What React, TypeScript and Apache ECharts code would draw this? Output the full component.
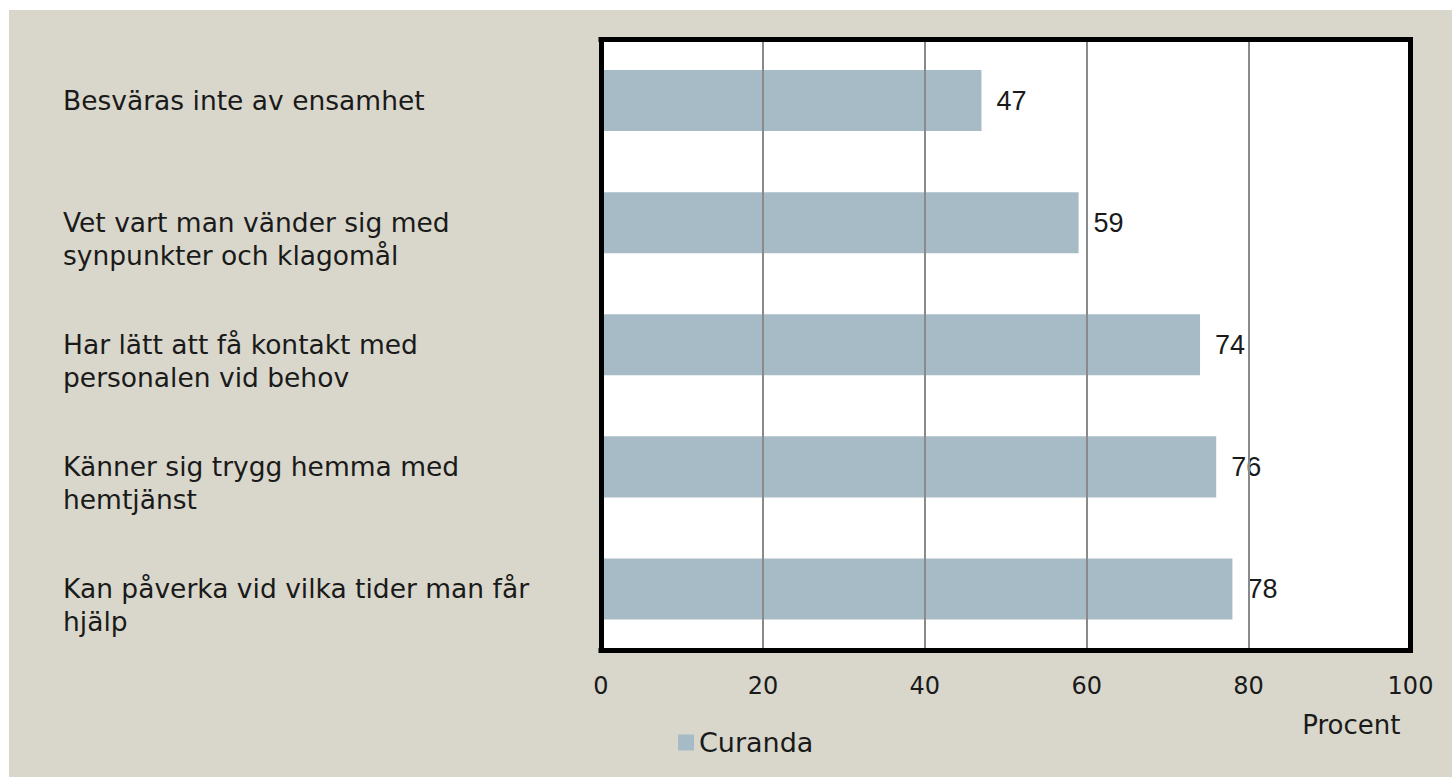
import React, { useEffect, useRef } from "react";
import * as echarts from "echarts";

const categories: string[] = [
  "Besväras inte av ensamhet",
  "Vet vart man vänder sig med\nsynpunkter och klagomål",
  "Har lätt att få kontakt med\npersonalen vid behov",
  "Känner sig trygg hemma med\nhemtjänst",
  "Kan påverka vid vilka tider man får\nhjälp",
];
const seriesName = "Curanda";
const values: number[] = [47, 59, 74, 76, 78];
const axisName = "Procent";
const xMin = 0;
const xMax = 100;
const xInterval = 20;

const TEXT = "#1a1a1a";
const FONT = "DejaVu Sans";
const frameLine = { show: true, onZero: false, lineStyle: { color: "#000000", width: 5, cap: "square" } };

export default function App() {
  const ref = useRef<HTMLDivElement>(null);
  useEffect(() => {
    if (!ref.current) return;
    const chart = echarts.init(ref.current, undefined, { renderer: "svg" });
    chart.setOption({
      animation: false,
      backgroundColor: "#d9d7cb",
      grid: {
        left: 592,
        right: 41.5,
        top: 29.5,
        bottom: 127,
        show: true,
        backgroundColor: "#ffffff",
        borderWidth: 0,
        containLabel: false,
      },
      legend: {
        data: [seriesName],
        left: 664,
        top: 714,
        icon: "rect",
        itemWidth: 16,
        itemHeight: 16,
        itemGap: 6,
        textStyle: { color: TEXT, fontFamily: FONT, fontSize: 27 },
      },
      xAxis: [
        {
          type: "value",
          position: "bottom",
          min: xMin,
          max: xMax,
          interval: xInterval,
          z: 5,
          axisLine: frameLine,
          axisTick: { show: false },
          splitLine: {
            show: true,
            showMinLine: false,
            showMaxLine: false,
            lineStyle: { color: "#8a8a8a", width: 2 },
          },
          axisLabel: { color: TEXT, fontFamily: FONT, fontSize: 24, margin: 24 },
          name: axisName,
          nameLocation: "end",
          nameGap: -10,
          nameTextStyle: {
            color: TEXT,
            fontFamily: FONT,
            fontSize: 26,
            align: "right",
            verticalAlign: "top",
            padding: [62, 0, 0, 0],
          },
        },
        {
          type: "value",
          position: "top",
          min: xMin,
          max: xMax,
          interval: xInterval,
          z: 5,
          axisLine: frameLine,
          axisTick: { show: false },
          splitLine: { show: false },
          axisLabel: { show: false },
        },
      ],
      yAxis: [
        {
          type: "category",
          data: categories,
          inverse: true,
          position: "left",
          z: 5,
          axisLine: frameLine,
          axisTick: { show: false },
          splitLine: { show: false },
          axisLabel: {
            interval: 0,
            color: TEXT,
            fontFamily: FONT,
            fontSize: 26.5,
            lineHeight: 33,
            align: "left",
            verticalAlign: "middle",
            margin: 538,
            formatter: (v: string) => "\n" + v + (v.indexOf("\n") >= 0 ? "" : "\n "),
          },
        },
        {
          type: "category",
          data: categories,
          inverse: true,
          position: "right",
          z: 5,
          axisLine: frameLine,
          axisTick: { show: false },
          splitLine: { show: false },
          axisLabel: { show: false },
        },
      ],
      series: [
        {
          name: seriesName,
          type: "bar",
          xAxisIndex: 0,
          yAxisIndex: 0,
          data: values,
          barCategoryGap: "50%",
          itemStyle: { color: "#a7bbc6" },
          label: {
            show: true,
            position: "right",
            distance: 15,
            color: TEXT,
            fontFamily: "Liberation Sans",
            fontSize: 27,
          },
        },
      ],
    });
    return () => chart.dispose();
  }, []);
  return (
    <div style={{ position: "absolute", left: 0, top: 0, width: 1452, height: 777, background: "#ffffff" }}>
      <div ref={ref} style={{ position: "absolute", left: 9, top: 10, width: 1443, height: 767 }} />
    </div>
  );
}
